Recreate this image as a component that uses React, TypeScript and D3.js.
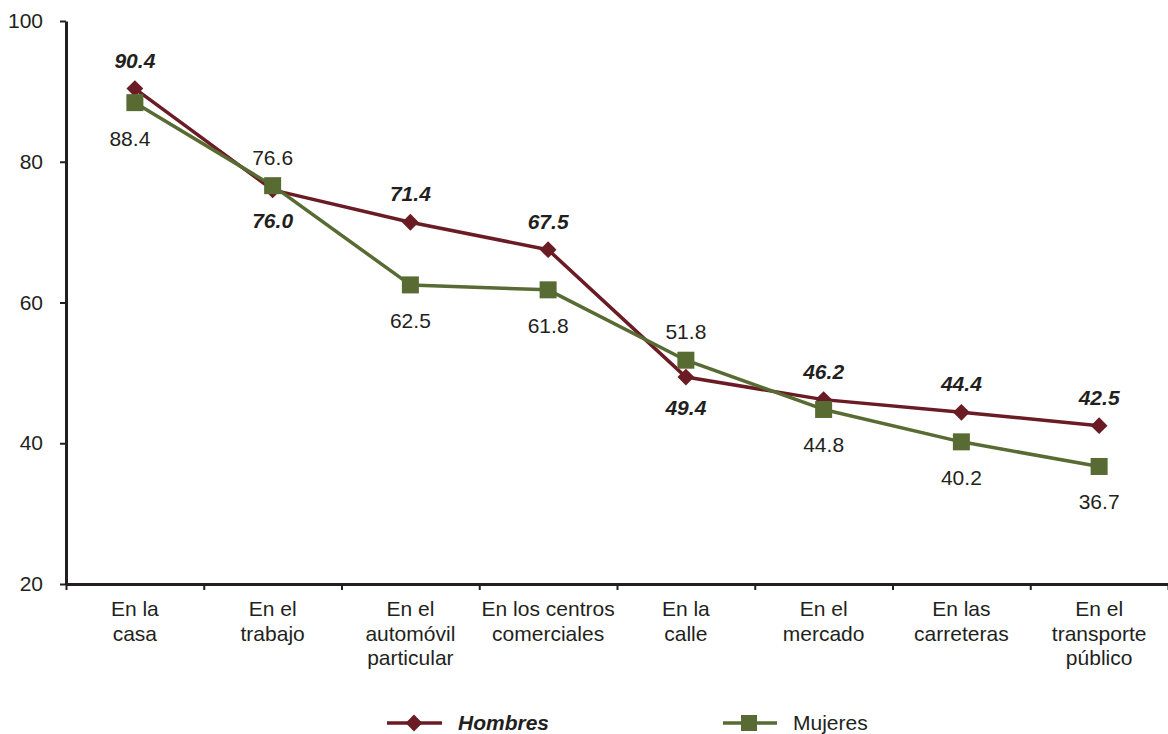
import { useEffect, useRef } from 'react';
import * as d3 from 'd3';

const categories = [
  'En la casa',
  'En el trabajo',
  'En el automóvil particular',
  'En los centros comerciales',
  'En la calle',
  'En el mercado',
  'En las carreteras',
  'En el transporte público',
];
const categoryLines = [
  ['En la', 'casa'],
  ['En el', 'trabajo'],
  ['En el', 'automóvil', 'particular'],
  ['En los centros', 'comerciales'],
  ['En la', 'calle'],
  ['En el', 'mercado'],
  ['En las', 'carreteras'],
  ['En el', 'transporte', 'público'],
];
const hombres = [90.4, 76.0, 71.4, 67.5, 49.4, 46.2, 44.4, 42.5];
const mujeres = [88.4, 76.6, 62.5, 61.8, 51.8, 44.8, 40.2, 36.7];
// label placement: true = above the point
const hombresAbove = [true, false, true, true, false, true, true, true];
const mujeresAbove = [false, true, false, false, true, false, false, false];
const yTicks = [20, 40, 60, 80, 100];

const HOMBRES_COLOR = '#6a1b24';
const MUJERES_COLOR = '#576b33';
const TEXT = '#231f20';
const FONT = '"Liberation Sans", Arial, sans-serif';
const FS = '21px';

export default function App(): JSX.Element {
  const svgRef = useRef<SVGSVGElement>(null);

  useEffect(() => {
    if (svgRef.current) {
      svgRef.current.innerHTML = '';
    }
    const width = 1168;
    const height = 734;
    const marginLeft = 66;
    const marginRight = 0;
    const marginTop = 21;
    const plotBottom = 584;

    const x = d3.scaleBand<string>().domain(categories).range([marginLeft, width - marginRight]);
    const cx = (i: number) => (x(categories[i]) ?? 0) + x.bandwidth() / 2;
    const y = d3.scaleLinear([20, 100], [plotBottom, marginTop]);

    const svg = d3
      .select(svgRef.current)
      .attr('width', width)
      .attr('height', height)
      .attr('viewBox', [0, 0, width, height])
      .style('font-family', FONT);

    // y-axis
    svg
      .append('g')
      .attr('transform', `translate(${marginLeft},0)`)
      .call(d3.axisLeft(y).tickValues(yTicks).tickSize(6).tickSizeOuter(0).tickPadding(17))
      .call((g) => g.select('.domain').attr('stroke', TEXT).attr('stroke-width', 3))
      .call((g) => g.selectAll('.tick line').attr('stroke', TEXT).attr('stroke-width', 2))
      .call((g) => g.selectAll('.tick text').attr('fill', TEXT).style('font-size', FS).style('font-family', FONT));

    // x-axis (ticks at category boundaries)
    const xEdges = d3.scaleLinear([0, categories.length], [marginLeft, width - marginRight]);
    svg
      .append('g')
      .attr('transform', `translate(0,${plotBottom})`)
      .call(
        d3
          .axisBottom(xEdges)
          .tickValues(d3.range(categories.length + 1))
          .tickSize(6)
          .tickSizeOuter(0)
          .tickFormat(() => '')
      )
      .call((g) => g.select('.domain').attr('stroke', TEXT).attr('stroke-width', 3))
      .call((g) => g.selectAll('.tick line').attr('stroke', TEXT).attr('stroke-width', 2));

    // category labels
    const catG = svg.append('g').attr('fill', TEXT).style('font-size', FS);
    categoryLines.forEach((lines, i) => {
      const t = catG.append('text').attr('text-anchor', 'middle').attr('x', cx(i)).attr('y', plotBottom + 32);
      lines.forEach((l, j) => {
        t.append('tspan').attr('x', cx(i)).attr('dy', j === 0 ? 0 : 24.5).text(l);
      });
    });

    const line = d3
      .line<number>()
      .x((_, i) => cx(i))
      .y((d) => y(d));

    // Hombres
    svg
      .append('path')
      .attr('fill', 'none')
      .attr('stroke', HOMBRES_COLOR)
      .attr('stroke-width', 3.5)
      .attr('stroke-linejoin', 'round')
      .attr('d', line(hombres));
    const diamond = d3.symbol(d3.symbolDiamond2, 180);
    svg
      .append('g')
      .selectAll('path')
      .data(hombres)
      .join('path')
      .attr('d', diamond())
      .attr('fill', HOMBRES_COLOR)
      .attr('transform', (d, i) => `translate(${cx(i)},${y(d)})`);

    // Mujeres
    svg
      .append('path')
      .attr('fill', 'none')
      .attr('stroke', MUJERES_COLOR)
      .attr('stroke-width', 3.5)
      .attr('stroke-linejoin', 'round')
      .attr('d', line(mujeres));
    svg
      .append('g')
      .selectAll('rect')
      .data(mujeres)
      .join('rect')
      .attr('x', (_, i) => cx(i) - 8.5)
      .attr('y', (d) => y(d) - 8.5)
      .attr('width', 17)
      .attr('height', 17)
      .attr('fill', MUJERES_COLOR);

    // value labels
    svg
      .append('g')
      .selectAll('text')
      .data(hombres)
      .join('text')
      .attr('x', (_, i) => cx(i))
      .attr('y', (d, i) => y(d) + (hombresAbove[i] ? -21 : 38))
      .attr('text-anchor', 'middle')
      .attr('fill', TEXT)
      .style('font-size', FS)
      .style('font-weight', 'bold')
      .style('font-style', 'italic')
      .text((d) => d.toFixed(1));
    svg
      .append('g')
      .selectAll('text')
      .data(mujeres)
      .join('text')
      .attr('x', (_, i) => cx(i) - (i === 0 ? 5 : 0))
      .attr('y', (d, i) => y(d) + (mujeresAbove[i] ? -21 : 43))
      .attr('text-anchor', 'middle')
      .attr('fill', TEXT)
      .style('font-size', FS)
      .text((d) => d.toFixed(1));

    // legend
    const legend = svg.append('g').attr('transform', 'translate(0,723)');
    legend.append('line').attr('x1', 387).attr('x2', 442).attr('stroke', HOMBRES_COLOR).attr('stroke-width', 3.5);
    legend.append('path').attr('d', diamond()).attr('fill', HOMBRES_COLOR).attr('transform', 'translate(414,0)');
    legend
      .append('text')
      .attr('x', 458)
      .attr('y', 7)
      .attr('fill', TEXT)
      .style('font-size', FS)
      .style('font-weight', 'bold')
      .style('font-style', 'italic')
      .text('Hombres');
    legend.append('line').attr('x1', 723).attr('x2', 777).attr('stroke', MUJERES_COLOR).attr('stroke-width', 3.5);
    legend.append('rect').attr('x', 741).attr('y', -8).attr('width', 16).attr('height', 16).attr('fill', MUJERES_COLOR);
    legend.append('text').attr('x', 793).attr('y', 7).attr('fill', TEXT).style('font-size', FS).text('Mujeres');
  }, []);

  return (
    <div style={{ position: 'absolute', left: 0, top: 0, background: '#fff' }}>
      <svg ref={svgRef} style={{ display: 'block' }} />
    </div>
  );
}
